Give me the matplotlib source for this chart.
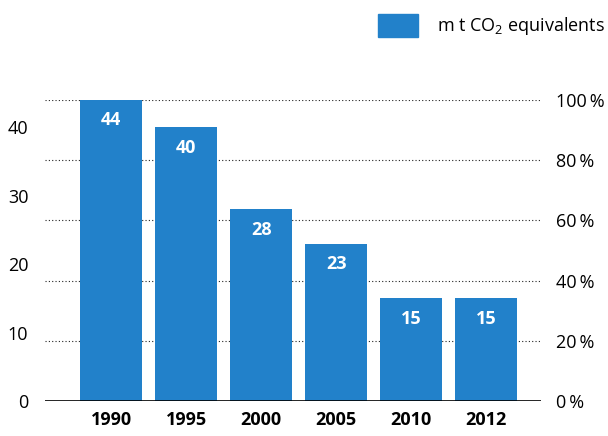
import matplotlib.pyplot as plt
from matplotlib.patches import Rectangle

plt.rcParams['font.family'] = ['Open Sans', 'DejaVu Sans']
plt.rcParams['mathtext.fontset'] = 'custom'
plt.rcParams['mathtext.rm'] = 'Open Sans'

# Emissions by year, million tonnes CO2 equivalents
years = ['1990', '1995', '2000', '2005', '2010', '2012']
values = [44, 40, 28, 23, 15, 15]
left_ticks = [0, 10, 20, 30, 40]
pct_ticks = [0, 20, 40, 60, 80, 100]

bar_color = '#2281ca'

fig = plt.figure(figsize=(6.08, 4.36), dpi=100)
ax = fig.add_axes([45 / 608, 1 - 401 / 436, (541 - 45) / 608, 301 / 436])

x = range(len(years))
bars = ax.bar(x, values, width=0.83, color=bar_color, zorder=2)
ax.set_xlim(-0.88, 5.73)
ax.set_ylim(0, max(values))

# Value labels inside the top of each bar
for b, v in zip(bars, values):
    ax.annotate(str(v), (b.get_x() + b.get_width() / 2, v), xytext=(0, -14.5),
                textcoords='offset points', ha='center', va='center',
                color='white', fontsize=13, fontweight='bold')

# Dotted gridlines at the percentage steps
for p in pct_ticks[1:]:
    ax.axhline(max(values) * p / 100, color='#222222', linestyle=(0, (1, 2)),
               linewidth=0.8, zorder=1)
ax.axhline(0, color='black', linewidth=1.2, zorder=3)

for s in ax.spines.values():
    s.set_visible(False)

ax.set_xticks(list(x))
ax.set_xticklabels(years, fontsize=13, fontweight='bold')
ax.set_yticks(left_ticks)
ax.set_yticklabels([str(t) for t in left_ticks], fontsize=13, fontweight='medium')
ax.tick_params(axis='both', length=0)
ax.tick_params(axis='y', pad=12)
ax.tick_params(axis='x', pad=7)

ax2 = ax.twinx()
ax2.set_ylim(0, 100)
ax2.set_yticks(pct_ticks)
ax2.set_yticklabels([f'{p}\u2009%' for p in pct_ticks], fontsize=13,
                    fontweight='medium')
ax2.tick_params(axis='y', length=0, pad=11)
for s in ax2.spines.values():
    s.set_visible(False)

# Legend swatch and label
fig.patches.append(Rectangle((378 / 608, 1 - 37 / 436), 40 / 608, 23 / 436,
                             transform=fig.transFigure, color=bar_color))
fig.text(437 / 608, 1 - 26 / 436, r'm t CO$_\mathrm{2}$ equivalents', fontsize=13,
         va='center', ha='left')

fig.savefig('out.png', dpi=100)
